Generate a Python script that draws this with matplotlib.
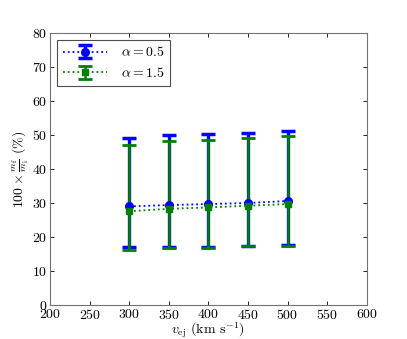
import matplotlib
matplotlib.use('Agg')
import matplotlib.pyplot as plt

plt.rcParams['font.family'] = 'serif'
plt.rcParams['font.serif'] = ['cmr10', 'DejaVu Serif']
plt.rcParams['mathtext.fontset'] = 'cm'
plt.rcParams['axes.formatter.use_mathtext'] = True
plt.rcParams['axes.unicode_minus'] = False
plt.rcParams['font.size'] = 10

# data
v_ej = [300, 350, 400, 450, 500]
frac_a05 = [29.0, 29.4, 29.7, 30.0, 30.6]
upper_a05 = [49.2, 49.9, 50.3, 50.6, 51.2]
lower_a05 = [17.0, 17.0, 17.0, 17.35, 17.6]
frac_a15 = [27.6, 28.3, 28.7, 29.2, 29.7]
upper_a15 = [47.1, 48.2, 48.5, 49.2, 49.8]
lower_a15 = [16.1, 16.7, 16.7, 17.3, 17.4]


def err(vals, lo, hi):
    return [[v - l for v, l in zip(vals, lo)], [h - v for v, h in zip(vals, hi)]]


fig = plt.figure(figsize=(4.07, 3.39), dpi=100)
ax = fig.add_axes([0.123, 0.1, 0.778, 0.803])

ax.errorbar(v_ej, frac_a05, yerr=err(frac_a05, lower_a05, upper_a05),
            color='blue', ls=':', lw=1.3, marker='o', ms=5.5,
            elinewidth=2.4, capsize=5, capthick=2.5, label=r'$\alpha=0.5$')
ax.errorbar(v_ej, frac_a15, yerr=err(frac_a15, lower_a15, upper_a15),
            color='green', ls=':', lw=1.3, marker='s', ms=5,
            elinewidth=1.8, capsize=5, capthick=2, label=r'$\alpha=1.5$')

ax.set_xlim(200, 600)
ax.set_ylim(0, 80)
ax.set_xticks(range(200, 601, 50))
ax.set_yticks(range(0, 81, 10))
ax.tick_params(direction='in', top=True, right=True, length=3, width=0.6,
               pad=2)
for s in ax.spines.values():
    s.set_linewidth(0.8)
    s.set_color('0.45')

ax.set_xlabel(r'$v_{\rm ej}$ (km s$^{-1}$)', labelpad=-1)
ax.set_ylabel(r'$100\times\frac{m_{\rm f}}{m_{\rm i}}$ (%)', labelpad=1)

leg = ax.legend(loc='upper left', numpoints=1, fancybox=False,
                framealpha=1, borderaxespad=0.5, handlelength=3.2,
                borderpad=0.4, labelspacing=0.5, handletextpad=1.0)
leg.get_frame().set_edgecolor('0.3')
leg.get_frame().set_linewidth(0.8)

fig.savefig('out.png', dpi=100)
